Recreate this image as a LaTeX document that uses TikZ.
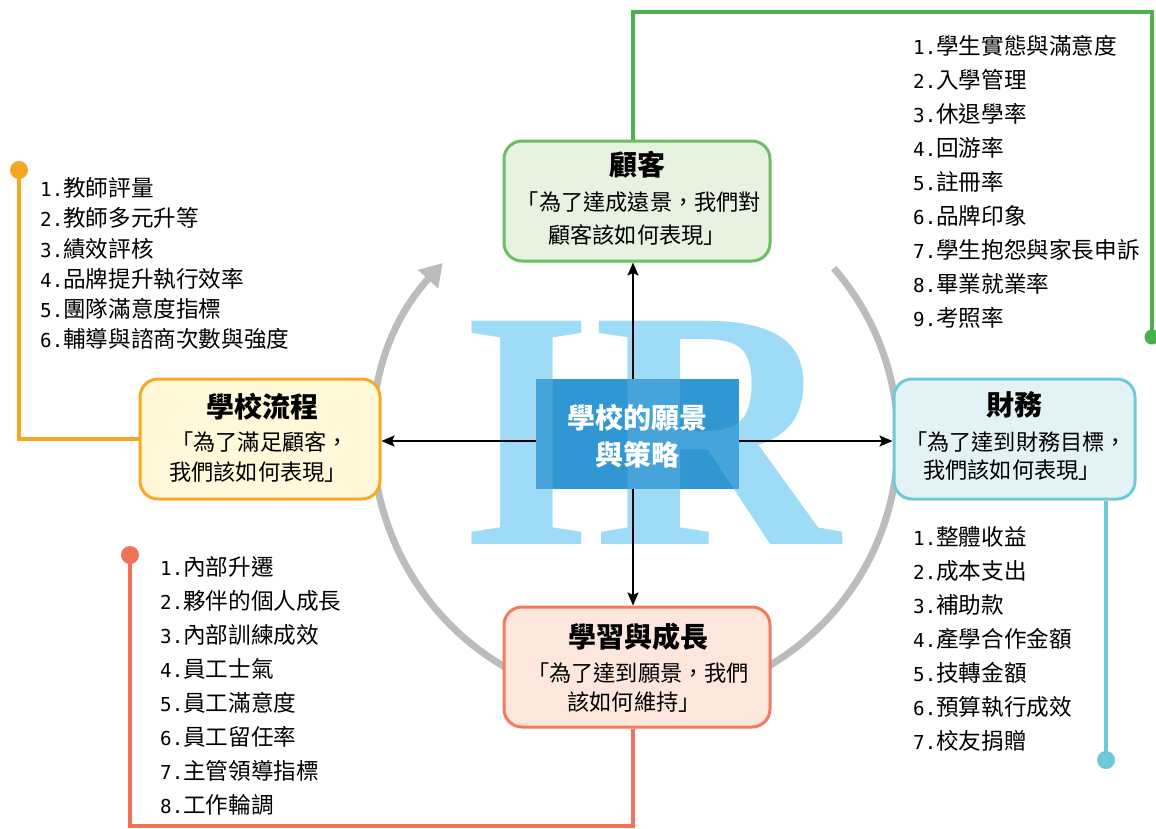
\documentclass[tikz,border=0pt]{standalone}
\usepackage{fontspec}
\setmainfont{Noto Sans CJK TC}
\newfontfamily\mono{DejaVu Sans Mono}[Scale=0.85]
\newfontfamily\irfont{Liberation Serif}
\usetikzlibrary{arrows.meta}
\definecolor{grnL}{HTML}{4CAF50}
\definecolor{grnB}{HTML}{6DBD62}
\definecolor{grnF}{HTML}{E7F2E0}
\definecolor{orgL}{HTML}{F5A623}
\definecolor{orgB}{HTML}{F9A825}
\definecolor{orgF}{HTML}{FFF8D9}
\definecolor{tealL}{HTML}{6CC9D5}
\definecolor{tealB}{HTML}{6ECAD7}
\definecolor{tealF}{HTML}{E3F3F5}
\definecolor{salL}{HTML}{F27257}
\definecolor{salB}{HTML}{F37A5E}
\definecolor{salF}{HTML}{FDE6DC}
\definecolor{arcgray}{HTML}{BBBCBE}
\definecolor{irblue}{HTML}{9EDBF7}
\definecolor{ctrblue}{HTML}{3097D3}
\begin{document}
\begin{tikzpicture}[x=1pt,y=1pt,
  box/.style={line width=3pt, rounded corners=18pt, inner sep=0pt},
  conn/.style={line width=3.5pt},
  arr/.style={line width=2pt, -{Stealth[length=13pt,width=11pt,inset=2.5pt]}},
  item/.style={anchor=base west, inner sep=0pt, font=\fontsize{22.6}{22.6}\selectfont},
  btxt/.style={anchor=base, inner sep=0pt, font=\fontsize{22.2}{22.2}\selectfont},
  btitle/.style={anchor=base, inner sep=0pt, font=\fontsize{28}{28}\selectfont\bfseries},
  irtext/.style={anchor=base west, inner sep=0pt, text=irblue, font=\irfont\bfseries\fontsize{341}{341}\selectfont}
]
\useasboundingbox (0,0) rectangle (1156,-828);

% gray cycle arc
\coordinate (a0) at (833.7,-268.1);
\draw[arcgray, line width=7pt, -{Triangle[length=22pt,width=26pt]}] (a0) arc[start angle=41, end angle=-222.5, radius=262pt];

% IR background letters
\node[irtext] (ir) at (460.5,-544) {IR};

% center reference point of cross
\coordinate (o) at (633,-441);

% boxes
\node[box, draw=grnB, fill=grnF, minimum width=266pt, minimum height=120pt] (cust) at (637,-201) {};
\node[box, draw=orgB, fill=orgF, minimum width=240pt, minimum height=120pt] (proc) at (260,-439) {};
\node[box, draw=tealB, fill=tealF, minimum width=241pt, minimum height=120pt] (fin) at (1014.5,-439) {};
\node[box, draw=salB, fill=salF, minimum width=266pt, minimum height=120pt] (learn) at (637,-667) {};

% center rectangle
\node[fill=ctrblue, minimum width=203pt, minimum height=110pt, inner sep=0pt] (ctr) at (637.5,-434) {};
\begin{scope}
  \clip (ctr.south west) rectangle (ctr.north east);
  \node[irtext, opacity=0.2] (ir2) at (460.5,-544) {IR};
\end{scope}

% arrows from center
\draw[arr] (ctr.west |- o) -- (proc.east |- o);
\draw[arr] (ctr.east |- o) -- (fin.west |- o);
\draw[arr] (ctr.north -| o) -- (cust.south -| o);
\draw[arr] (ctr.south -| o) -- (learn.north -| o);

% connectors
\coordinate (g1) at (633,-12);
\coordinate (g2) at (1152,-12);
\coordinate (g3) at (1152,-337);
\draw[conn, grnL] (cust.north -| o) -- (g1) -- (g2) -- (g3);
\fill[grnL] (g3) circle (7.5pt);

\coordinate (p1) at (19,-439);
\coordinate (p2) at (19,-170);
\draw[conn, orgL] (proc.west) -- (p1) -- (p2);
\fill[orgL] (p2) circle (9pt);

\coordinate (f1) at (1106,-760);
\draw[conn, tealL] (fin.south -| f1) -- (f1);
\fill[tealL] (f1) circle (9pt);

\coordinate (s1) at (633,-826);
\coordinate (s2) at (130,-826);
\coordinate (s3) at (130,-555);
\draw[conn, salL] (learn.south -| o) -- (s1) -- (s2) -- (s3);
\fill[salL] (s3) circle (9pt);

% center text
\node[btitle, text=white] (ct1) at (637.5,-428.6) {學校的願景};
\node[btitle, text=white] (ct2) at (637.5,-465.6) {與策略};

% box texts
\node[btitle] (cu1) at (637,-175.6) {顧客};
\node[btxt] (cu2) at (639,-210.4) {「為了達成遠景，我們對};
\node[btxt] (cu3) at (637,-243.4) {顧客該如何表現」};

\node[btitle] (pr1) at (262,-417.6) {學校流程};
\node[btxt] (pr2) at (260,-450.4) {「為了滿足顧客，};
\node[btxt] (pr3) at (258,-480.4) {我們該如何表現」};

\node[btitle] (fi1) at (1014.5,-415.6) {財務};
\node[btxt] (fi2) at (1016,-450.4) {「為了達到財務目標，};
\node[btxt] (fi3) at (1012,-478.4) {我們該如何表現」};

\node[btitle] (le1) at (638,-647.6) {學習與成長};
\node[btxt] (le2) at (638,-681.4) {「為了達到願景，我們};
\node[btxt] (le3) at (634,-710.4) {該如何維持」};

% lists
\foreach \t [count=\i] in {教師評量,教師多元升等,績效評核,品牌提升執行效率,團隊滿意度指標,輔導與諮商次數與強度}
  \node[item] (pl\i) at (40,{-196.6-30.2*(\i-1)}) {{\mono\i.}\t};

\foreach \t [count=\i] in {學生實態與滿意度,入學管理,休退學率,回游率,註冊率,品牌印象,學生抱怨與家長申訴,畢業就業率,考照率}
  \node[item] (cl\i) at (913,{-54.6-34*(\i-1)}) {{\mono\i.}\t};

\foreach \t [count=\i] in {整體收益,成本支出,補助款,產學合作金額,技轉金額,預算執行成效,校友捐贈}
  \node[item] (fl\i) at (913,{-545.6-34*(\i-1)}) {{\mono\i.}\t};

\foreach \t [count=\i] in {內部升遷,夥伴的個人成長,內部訓練成效,員工士氣,員工滿意度,員工留任率,主管領導指標,工作輪調}
  \node[item] (ll\i) at (160,{-575.6-34*(\i-1)}) {{\mono\i.}\t};
\end{tikzpicture}
\end{document}
